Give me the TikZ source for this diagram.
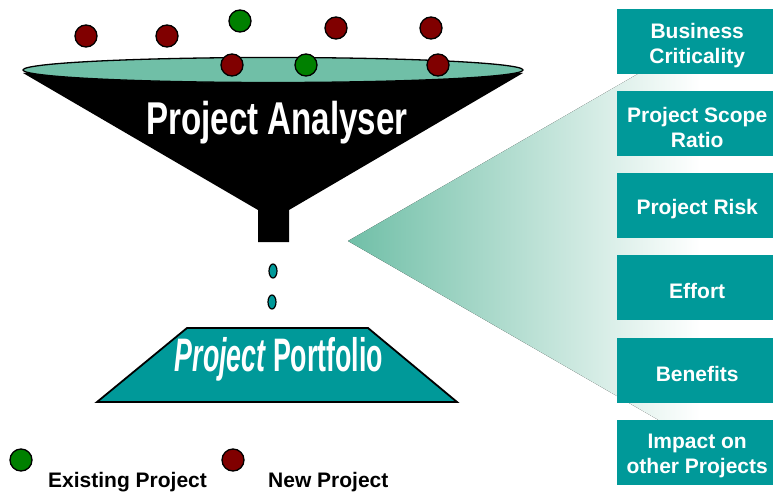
\documentclass[tikz,border=0pt]{standalone}
\usepackage{fontspec}
\setmainfont{Liberation Sans}
\usetikzlibrary{shapes.geometric}
\definecolor{boxteal}{RGB}{0,153,153}
\definecolor{rim}{RGB}{112,191,167}
\definecolor{newred}{RGB}{128,0,0}
\definecolor{oldgreen}{RGB}{0,128,0}
\tikzset{
  project/.style={circle, draw=black, line width=1.3pt, minimum size=22pt, inner sep=0pt},
  newproj/.style={project, fill=newred},
  oldproj/.style={project, fill=oldgreen},
  drop/.style={ellipse, draw=black, line width=1.2pt, fill=boxteal, minimum width=8pt, minimum height=14pt, inner sep=0pt},
  criterion/.style={fill=boxteal, minimum width=160pt, minimum height=65pt,
    anchor=north west, inner sep=0pt},
  critlabel/.style={text=white, align=center, inner sep=0pt, yshift=-3.5pt,
    font=\bfseries\fontsize{21}{25}\selectfont},
  legendtext/.style={anchor=base west, inner sep=0pt, font=\bfseries\fontsize{21}{24}\selectfont}
}
\begin{document}
\begin{tikzpicture}[x=1pt,y=-1pt]
\useasboundingbox (0,0) rectangle (773,492);

% shaded wedge fanning out towards the criteria
\begin{scope}
  \clip (348,241) -- (773,-4) -- (773,486) -- cycle;
  \fill[left color=rim, right color=white] (348,0) rectangle (700,492);
\end{scope}

% funnel body and spout
\fill[black] (23,73) -- (258,210) -- (258,242) -- (289,242) -- (289,210) -- (523,73) -- cycle;
\draw[fill=rim, line width=1.3pt] (273,70) ellipse [x radius=250, y radius=12.5];

% projects falling into the funnel
\node[newproj] (n1) at (86,36) {};
\node[newproj] (n2) at (167,36) {};
\node[oldproj] (e1) at (240,21) {};
\node[newproj] (n3) at (336,28) {};
\node[newproj] (n4) at (431,28) {};
\node[newproj] (n5) at (232,65) {};
\node[oldproj] (e2) at (306,65) {};
\node[newproj] (n6) at (438,65) {};

\node[white, anchor=base, inner sep=0pt] (analyser) at (277,135)
  {\scalebox{0.72}[1]{\fontsize{46}{46}\selectfont\bfseries Project Analyser}};

% drops leaving the spout
\node[drop] (d1) at (273,271) {};
\node[drop] (d2) at (272,302) {};

% portfolio tray
\draw[fill=boxteal, line width=1.8pt] (187,328) -- (368,328) -- (457,402) -- (97,402) -- cycle;
\node[white, anchor=base, inner sep=0pt] (portfolio) at (279,371)
  {\scalebox{0.57}[1]{\fontsize{47}{47}\selectfont\bfseries\itshape Project \upshape Portfolio}};

% evaluation criteria
\node[criterion] (c1) at (617,9)   {};
\node[criterion] (c2) at (617,91)  {};
\node[criterion] (c3) at (617,173) {};
\node[criterion] (c4) at (617,255) {};
\node[criterion] (c5) at (617,338) {};
\node[criterion] (c6) at (617,420) {};
\node[critlabel] (t1) at (c1.center) {Business\\Criticality};
\node[critlabel] (t2) at (c2.center) {Project Scope\\Ratio};
\node[critlabel] (t3) at (c3.center) {Project Risk};
\node[critlabel] (t4) at (c4.center) {Effort};
\node[critlabel] (t5) at (c5.center) {Benefits};
\node[critlabel] (t6) at (c6.center) {Impact on\\other Projects};

% legend
\node[oldproj] (lg1) at (21,460) {};
\node[legendtext] (lt1) at (48,487) {Existing Project};
\node[newproj] (lg2) at (233,460) {};
\node[legendtext] (lt2) at (268,487) {New Project};
\end{tikzpicture}
\end{document}
